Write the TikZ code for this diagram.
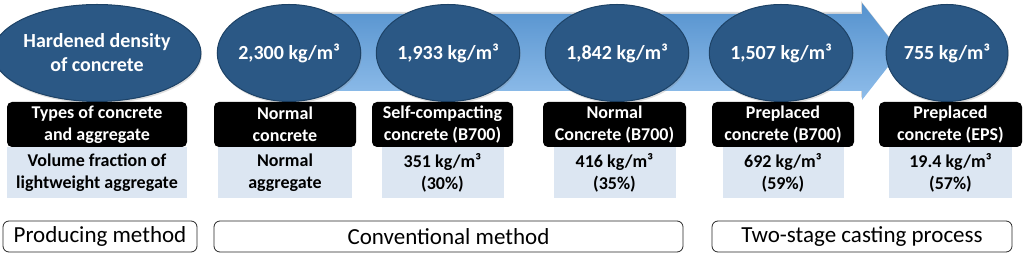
\documentclass[tikz,border=0pt]{standalone}
\usepackage{fontspec}
\setmainfont{Carlito}
\usetikzlibrary{positioning, shapes.geometric, shadows}
\definecolor{densblue}{HTML}{2B5885}
\definecolor{densedge}{HTML}{1D4266}
\definecolor{flowtop}{HTML}{5592CE}
\definecolor{flowbot}{HTML}{8FBDEA}
\definecolor{fracblue}{HTML}{DCE6F2}
\tikzset{
  density/.style={ellipse, fill=densblue, draw=densedge, line width=1pt, text=white, inner sep=0pt,
    minimum height=97pt, align=center, font=\fontsize{20}{24}\selectfont\bfseries,
    drop shadow={opacity=0.25, shadow xshift=1pt, shadow yshift=-2pt}},
  typebox/.style={fill=black, text=white, rounded corners=5pt, inner sep=0pt, minimum height=45pt,
    align=center, font=\fontsize{18}{22}\selectfont\bfseries},
  fracbox/.style={fill=fracblue, inner sep=0pt, minimum height=51pt, align=center,
    font=\fontsize{18}{22}\selectfont\bfseries},
  methodbox/.style={draw=black!85, line width=0.8pt, rounded corners=6pt, inner sep=0pt,
    minimum height=31pt, font=\fontsize{23}{26}\selectfont},
}

\begin{document}
\begin{tikzpicture}[x=1pt, y=1pt]
    \useasboundingbox (0,0) rectangle (1024,256);
    % process arrow behind the densities
    \shade[top color=flowtop, bottom color=flowbot,
      drop shadow={opacity=0.3, shadow xshift=-1pt, shadow yshift=2pt}]
      (250,165) -- (250,242) -- (862,242) -- (862,253) -- (900,204.5) -- (862,156) -- (862,165) -- cycle;
    % densities
    \node[density, minimum width=162pt] (dhead) at (97,203) {Hardened density\\of concrete};
    \node[density, minimum width=118pt] (dnc) at (289,203) {2,300 kg/m³};
    \node[density, minimum width=120pt] (dscc) at (448,203) {1,933 kg/m³};
    \node[density, minimum width=119pt] (dnb) at (617,203) {1,842 kg/m³};
    \node[density, minimum width=122pt] (dpb) at (781,203) {1,507 kg/m³};
    \node[density, minimum width=121pt] (dpe) at (947,203) {755 kg/m³};
    % types of concrete
    \node[typebox, minimum width=180pt] (thead) at (97,131.5) {Types of concrete\\and aggregate};
    \node[typebox, minimum width=142pt] (tnc) at (285,131.5) {Normal\\concrete};
    \node[typebox, minimum width=141pt] (tscc) at (442.5,131.5) {Self-compacting\\concrete (B700)};
    \node[typebox, minimum width=143pt] (tnb) at (614.5,131.5) {Normal\\Concrete (B700)};
    \node[typebox, minimum width=142pt] (tpb) at (783,131.5) {Preplaced\\concrete (B700)};
    \node[typebox, minimum width=143pt] (tpe) at (950.5,131.5) {Preplaced\\concrete (EPS)};
    % volume fractions
    \node[fracbox, minimum width=180pt, below=0pt of thead] (fhead) {Volume fraction of\\lightweight aggregate};
    \node[fracbox, minimum width=134pt, below=0pt of tnc] (fnc) {Normal\\aggregate};
    \node[fracbox, minimum width=122pt, below=0pt of tscc] (fscc) {351 kg/m³\\(30\%)};
    \node[fracbox, minimum width=122pt, below=0pt of tnb] (fnb) {416 kg/m³\\(35\%)};
    \node[fracbox, minimum width=121pt, below=0pt of tpb] (fpb) {692 kg/m³\\(59\%)};
    \node[fracbox, minimum width=123pt, below=0pt of tpe] (fpe) {19.4 kg/m³\\(57\%)};
    % producing methods
    \node[methodbox, minimum width=194pt] (mhead) at (100,19.5) {Producing method};
    \node[methodbox, minimum width=469pt] (mconv) at (448.5,19.5) {Conventional method};
    \node[methodbox, minimum width=300pt] (mtwo) at (862,19.5) {Two-stage casting process};
\end{tikzpicture}
\end{document}
